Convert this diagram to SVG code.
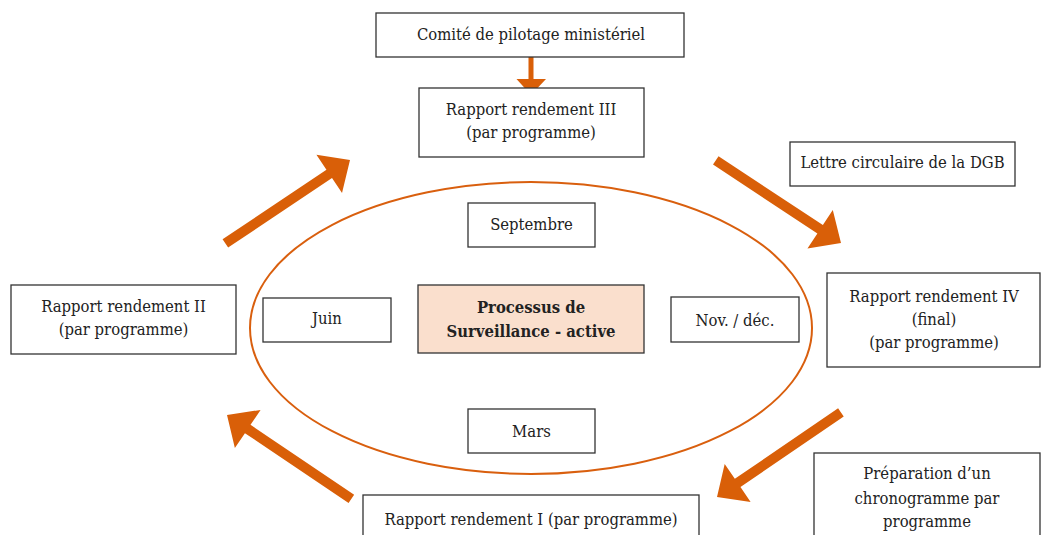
<svg xmlns="http://www.w3.org/2000/svg" xmlns:xlink="http://www.w3.org/1999/xlink" width="1041" height="535" viewBox="0 0 1041 535">
  <style>
    .box { fill: #ffffff; stroke: #333333; stroke-width: 1.3; }
    .core { fill: #fadfcd; stroke: #333333; stroke-width: 1.3; }
    .lbl { font-family: "DejaVu Serif", "Liberation Serif", serif; font-stretch: condensed; font-size: 16.5px; fill: #222222; text-anchor: middle; }
    .bold { font-weight: bold; }
    .cycle { fill: none; stroke: #d95f0e; stroke-width: 2; }
    .flow { fill: #d95f08; }
  </style>
  <defs>
    <!-- block arrow, tip at the origin pointing along +x -->
    <path id="bigArrow" d="M0,0 L-25,-23 L-25,-5 L-150,-5 L-150,5 L-25,5 L-25,23 Z"/>
  </defs>

  <!-- yearly cycle -->
  <ellipse class="cycle" cx="531" cy="328" rx="281" ry="146"/>

  <g id="connectors" class="flow">
    <path d="M528.5,50 L533.5,50 L533.5,79 L546,79 L531,95 L516.5,79 L528.5,79 Z"/>
    <use xlink:href="#bigArrow" transform="translate(350,160) rotate(-33.8)"/>
    <use xlink:href="#bigArrow" transform="translate(841,243) rotate(33.4)"/>
    <use xlink:href="#bigArrow" transform="translate(717,497) rotate(145.7)"/>
    <use xlink:href="#bigArrow" transform="translate(227,415) rotate(-146)"/>
  </g>

  <g id="comite">
    <rect class="box" x="376" y="13" width="308" height="44"/>
    <text class="lbl" x="531" y="40">Comité de pilotage ministériel</text>
  </g>

  <g id="rapport3">
    <rect class="box" x="419" y="88" width="225" height="69"/>
    <text class="lbl" x="531" y="115">Rapport rendement III</text>
    <text class="lbl" x="531" y="138">(par programme)</text>
  </g>

  <g id="lettre">
    <rect class="box" x="790" y="142" width="225" height="44"/>
    <text class="lbl" x="902.5" y="168">Lettre circulaire de la DGB</text>
  </g>

  <g id="rapport4">
    <rect class="box" x="827" y="273" width="213" height="94"/>
    <text class="lbl" x="934" y="302">Rapport rendement IV</text>
    <text class="lbl" x="934" y="325">(final)</text>
    <text class="lbl" x="934" y="348">(par programme)</text>
  </g>

  <g id="preparation">
    <rect class="box" x="814" y="453" width="226" height="90"/>
    <text class="lbl" x="927" y="479">Préparation d’un</text>
    <text class="lbl" x="927" y="504">chronogramme par</text>
    <text class="lbl" x="927" y="527">programme</text>
  </g>

  <g id="rapport1">
    <rect class="box" x="363" y="495" width="336" height="50"/>
    <text class="lbl" x="531" y="525">Rapport rendement I (par programme)</text>
  </g>

  <g id="rapport2">
    <rect class="box" x="11" y="285" width="225" height="69"/>
    <text class="lbl" x="123.5" y="312">Rapport rendement II</text>
    <text class="lbl" x="123.5" y="335">(par programme)</text>
  </g>

  <g id="septembre">
    <rect class="box" x="468" y="203" width="127" height="44"/>
    <text class="lbl" x="531.5" y="230">Septembre</text>
  </g>

  <g id="juin">
    <rect class="box" x="263" y="298" width="128" height="44"/>
    <text class="lbl" x="327" y="324">Juin</text>
  </g>

  <g id="processus">
    <rect class="core" x="418" y="285" width="226" height="68"/>
    <text class="lbl bold" x="531" y="313">Processus de</text>
    <text class="lbl bold" x="531" y="337">Surveillance - active</text>
  </g>

  <g id="novdec">
    <rect class="box" x="671" y="297" width="128" height="45"/>
    <text class="lbl" x="735" y="326">Nov. / déc.</text>
  </g>

  <g id="mars">
    <rect class="box" x="468" y="409" width="127" height="44"/>
    <text class="lbl" x="531.5" y="437">Mars</text>
  </g>
</svg>
